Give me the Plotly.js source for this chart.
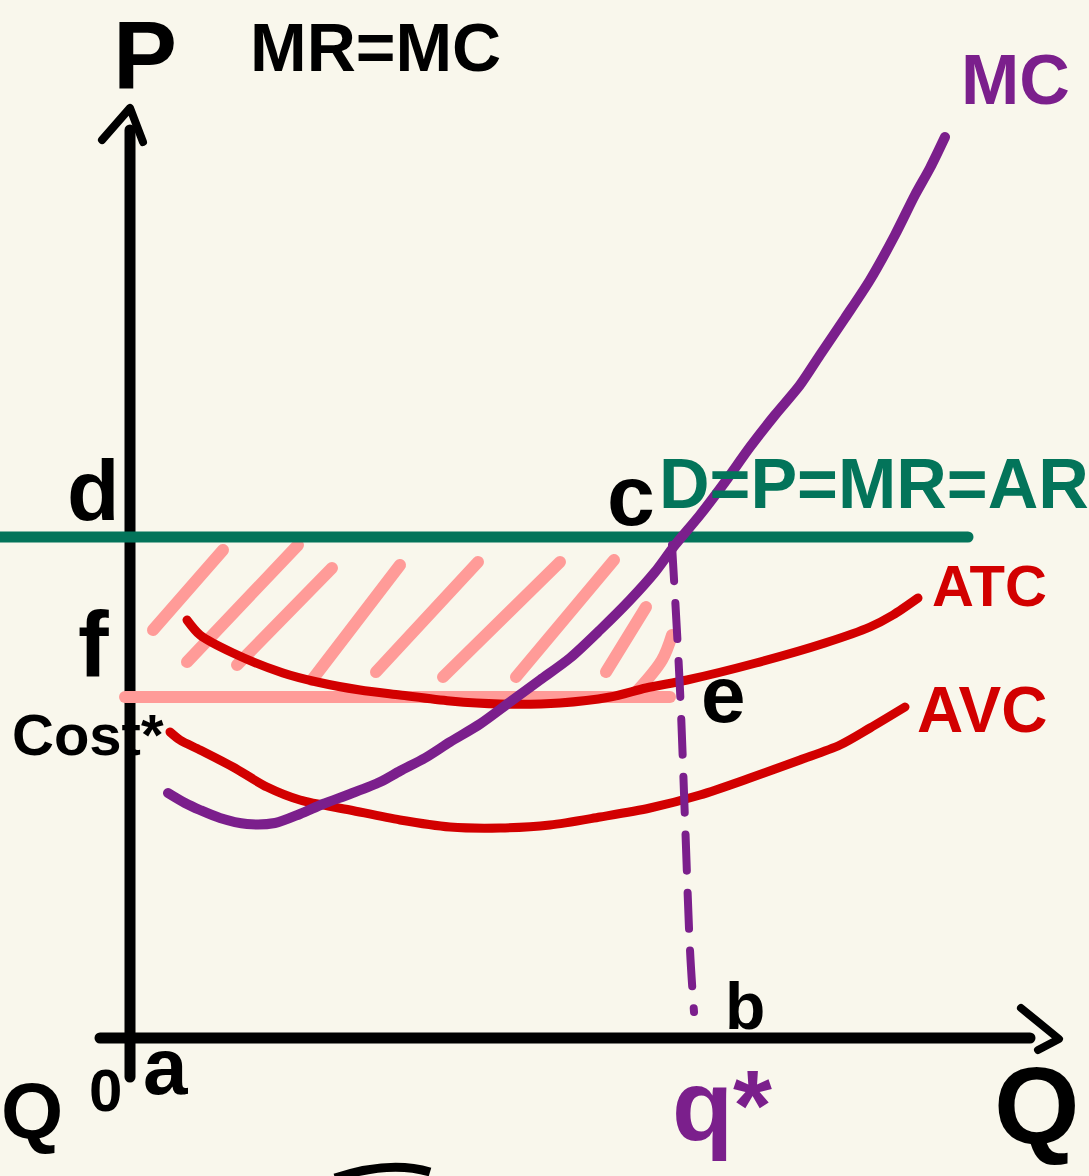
<!DOCTYPE html>
<html>
<head>
<meta charset="utf-8">
<script src="https://cdn.plot.ly/plotly-3.0.1.min.js"></script>
<style>
  html, body { margin: 0; padding: 0; background: #f9f7ec; }
  #chart { width: 1089px; height: 1176px; }
  .js-line { stroke-linecap: round !important; stroke-linejoin: round !important; }
</style>
</head>
<body>
<div id="chart"></div>
<script>
// Perfect competition, short run: profit where MR = MC.
// Quantity (Q) and price / cost (P) readings for each curve.

const mcQ = [3.8, 5.5, 7, 9, 11.7, 14.5, 17, 19.3, 22, 25, 27, 29.5, 32, 35, 38, 41, 44, 47, 50, 52.5, 54.5, 57, 59.5, 62, 64.5, 67, 69, 71.5, 74, 76.5, 78.5, 80, 81.5];
const mcP = [24.7, 23.7, 23, 22.2, 21.6, 21.7, 22.6, 23.6, 24.6, 25.8, 26.9, 28.2, 29.8, 31.6, 33.8, 36, 38.2, 41, 44, 46.8, 49.5, 52.5, 55.8, 59.3, 62.5, 65.5, 68.5, 72.2, 76, 80.5, 84.5, 87.2, 90.3];

const atcQ = [5.7, 7, 10.3, 15.3, 18.7, 23, 27, 32, 37, 43, 48, 51.6, 55.7, 62.6, 69.5, 74, 76.3, 78.8];
const atcP = [42, 40.5, 38.7, 36.7, 35.8, 35, 34.5, 33.9, 33.6, 33.7, 34.3, 35.2, 36, 37.7, 39.7, 41.3, 42.5, 44.2];

const avcQ = [4, 5, 7, 10.3, 13.7, 17, 22, 27, 32, 37, 42, 47, 52, 57, 62, 67, 71, 74, 77.5];
const avcP = [30.8, 30, 29, 27.3, 25.3, 24, 23, 22, 21.3, 21.2, 21.5, 22.3, 23.2, 24.5, 26.2, 28, 29.5, 31.2, 33.3];

// Market price (D = P = MR = AR) and average total cost at Q*
const price = 50.3;
const priceQ = [-13, 83.8];
const costAtQ = 34.3;
const costQ = [-0.5, 54];

// Q* drop line from point c down to b
const qStarQ = [54.2, 55, 55.5, 56, 56.4];
const qStarP = [49.5, 35, 22, 9, 2.8];

// Profit-area hatching strokes (start / end)
const hatchQ0 = [9.3, 16.8, 20.2, 27, 34.8, 43, 48.4, 51.6];
const hatchP0 = [49, 49.5, 47.2, 47.5, 47.8, 47.8, 48, 43.3];
const hatchQ1 = [2.3, 5.7, 10.7, 18.2, 24.6, 31.3, 38.6, 47.6];
const hatchP1 = [41, 37.8, 37.5, 36, 36.8, 36.3, 36.3, 36.8];
const hatchArcQ = [54.2, 53.2, 50.8];
const hatchArcP = [40.5, 38, 35];

const PURPLE = '#7b1f8c';
const RED = '#d20000';
const GREEN = '#03745a';
const PINK = '#ff9b98';
const INK = '#000000';

function line(x, y, color, width, extra) {
  return Object.assign({
    type: 'scatter', mode: 'lines', x: x, y: y, hoverinfo: 'skip',
    line: { color: color, width: width }
  }, extra || {});
}

const traces = [];

// Axes with arrowheads
traces.push(line([0, 0], [-3.7, 91], INK, 11));
traces.push(line([-2.8, 0, 1.3], [90, 93.2, 89.8], INK, 8));
traces.push(line([-3, 90], [0.2, 0.2], INK, 11));
traces.push(line([89.1, 92.9, 90.8], [3.2, 0.1, -1], INK, 8));

// Hatching of the profit rectangle
for (let i = 0; i < hatchQ0.length; i++) {
  traces.push(line([hatchQ0[i], hatchQ1[i]], [hatchP0[i], hatchP1[i]], PINK, 12));
}
traces.push(line(hatchArcQ, hatchArcP, PINK, 12, { line: { color: PINK, width: 12, shape: 'spline' } }));

// ATC level at Q*
traces.push(line(costQ, [costAtQ, costAtQ], PINK, 12));

// Cost curves
traces.push(line(avcQ, avcP, RED, 9, { line: { color: RED, width: 9, shape: 'spline', smoothing: 0.8 } }));
traces.push(line(atcQ, atcP, RED, 9, { line: { color: RED, width: 9, shape: 'spline', smoothing: 0.8 } }));

// Demand / price line
traces.push(line(priceQ, [price, price], GREEN, 11));

// Marginal cost
traces.push(line(mcQ, mcP, PURPLE, 10, { line: { color: PURPLE, width: 10, shape: 'spline', smoothing: 0.8 } }));

// Q* dashed drop line
traces.push(line(qStarQ, qStarP, PURPLE, 8, { line: { color: PURPLE, width: 8, dash: '36px,22px', shape: 'spline' } }));

const FONT = 'Liberation Sans, Arial, sans-serif';
function label(text, x, y, size, color) {
  return {
    text: text, x: x, y: y, xref: 'x', yref: 'y', showarrow: false,
    xanchor: 'center', yanchor: 'middle',
    font: { family: FONT, size: size, color: color, weight: 700 }
  };
}

const annotations = [
  label('P', 1.5, 98.6, 96, INK),
  label('MR=MC', 24.5, 99.3, 68, INK),
  label('MC', 88.5, 96.0, 70, PURPLE),
  label('d', -3.7, 55, 86, INK),
  label('c', 50.1, 54.5, 86, INK),
  label('D=P=MR=AR', 74.4, 55.6, 70, GREEN),
  label('ATC', 85.9, 45.5, 58, RED),
  label('f', -3.7, 39.6, 92, INK),
  label('Cost*', -4.2, 30.6, 58, INK),
  label('e', 59.3, 34.6, 80, INK),
  label('AVC', 85.2, 33.0, 64, RED),
  label('b', 61.5, 3.4, 66, INK),
  label('0', -2.5, -5.0, 60, INK),
  label('a', 3.5, -2.6, 80, INK),
  label('q*', 59.2, -6.5, 100, PURPLE),
  label('Q', 90.7, -6.4, 110, INK),
  label('Q', -9.8, -7.0, 80, INK)
];

const layout = {
  width: 1089, height: 1176,
  margin: { l: 0, r: 0, t: 0, b: 0 },
  paper_bgcolor: '#f9f7ec', plot_bgcolor: '#f9f7ec',
  showlegend: false,
  xaxis: { range: [-13, 95.9], visible: false, fixedrange: true },
  yaxis: { range: [-13.6, 104], visible: false, fixedrange: true },
  annotations: annotations,
  shapes: [
    {
      type: 'path', xref: 'x', yref: 'y',
      path: 'M 20.5 -13.8 Q 26 -12.0 30 -13.2',
      line: { color: INK, width: 9 }
    }
  ]
};

Plotly.newPlot('chart', traces, layout, { staticPlot: true, displayModeBar: false });
</script>
</body>
</html>
